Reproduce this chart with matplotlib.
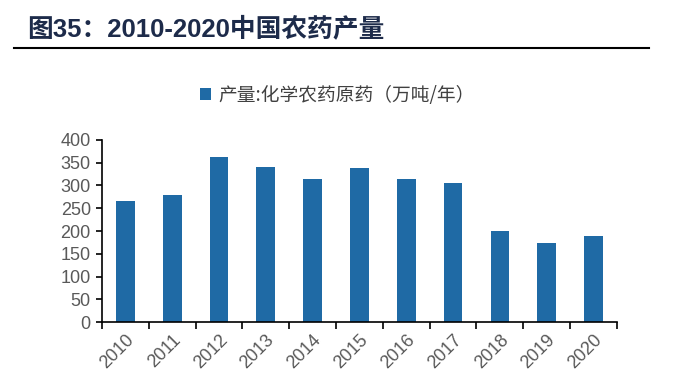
import matplotlib
matplotlib.use("Agg")
import matplotlib.pyplot as plt
import numpy as np

years = ["2010", "2011", "2012", "2013", "2014", "2015", "2016", "2017", "2018", "2019", "2020"]
production = [266, 280, 363, 341, 314, 338, 315, 306, 201, 174, 188]
series_name = "产量:化学农药原药（万吨/年）"
title = "图35：2010-2020中国农药产量"
yticks = [0, 50, 100, 150, 200, 250, 300, 350, 400]

plt.rcParams['font.family'] = ['Liberation Sans', 'Noto Sans CJK SC', 'DejaVu Sans']

fig = plt.figure(figsize=(6.75, 3.8), dpi=100)
ax = fig.add_axes([0.151, 0.1526, 0.763, 0.479])

x = np.arange(len(years))
bars = ax.bar(x, production, width=0.4, color="#1f6aa5", label=series_name, zorder=2)

ax.set_xlim(-0.5, len(years) - 0.5)
ax.set_ylim(0, 400)
ax.set_yticks(yticks)
ax.set_yticklabels([str(v) for v in yticks], fontsize=13, color="#595959")
ax.set_xticks(x)
ax.set_xticklabels(years, rotation=45, ha="right", rotation_mode="anchor", fontsize=13, color="#595959")
ax.tick_params(axis="x", which="major", length=0, pad=7)
ax.set_xticks(np.arange(-0.5, len(years)), minor=True)
ax.tick_params(axis="x", which="minor", length=5, width=1.2, color="black", direction="out")
ax.tick_params(axis="y", length=4, width=1.2, color="black", direction="out", pad=4)

for s in ["top", "right"]:
    ax.spines[s].set_visible(False)
for s in ["left", "bottom"]:
    ax.spines[s].set_linewidth(1.2)
    ax.spines[s].set_color("black")

leg = fig.legend(handles=[bars], labels=[series_name], loc="center", bbox_to_anchor=(0.5, 0.75),
                 frameon=False, handlelength=0.6, handleheight=0.6, handletextpad=0.4,
                 prop={'family': ['Noto Sans CJK SC'], 'size': 13.5})
for t in leg.get_texts():
    t.set_color("#404040")

fig.text(0.04, 0.925, title, fontsize=18.5, fontweight="bold", color="#1d2b4a",
         va="center", ha="left", family=['Liberation Sans', 'Noto Sans CJK SC'])
fig.add_artist(plt.Line2D([0.02, 0.962], [0.873, 0.873], color="black", linewidth=1.5, transform=fig.transFigure))

fig.savefig("out.png", dpi=100)
